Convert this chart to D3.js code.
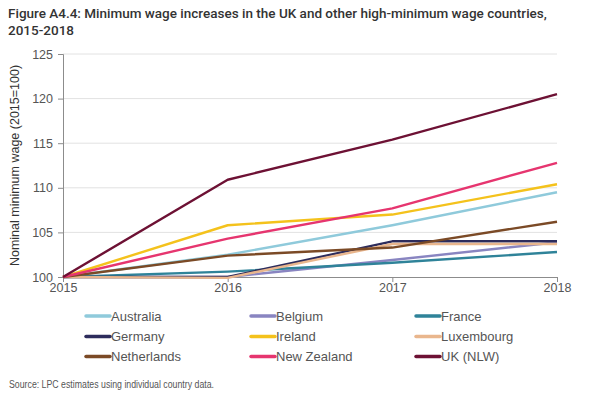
<!DOCTYPE html>
<html>
<head>
<meta charset="utf-8">
<script src="https://cdn.jsdelivr.net/npm/d3@7"></script>
<style>
  body { margin: 0; background: #fff; }
  text { font-family: "Liberation Sans", Arial, sans-serif; }
</style>
</head>
<body>
<div id="chart"></div>
<script>
const years = [2015, 2016, 2017, 2018];
const yTicks = [100, 105, 110, 115, 120, 125];

const countries = ["Australia", "Belgium", "France", "Germany", "Ireland",
                   "Luxembourg", "Netherlands", "New Zealand", "UK (NLW)"];
const colours = ["#8fcadb", "#8985c1", "#2f8399", "#2d2c5c", "#f4c21c",
                 "#e9b68d", "#7b4a26", "#e6356f", "#6d1134"];

const australia   = [100, 102.5, 105.8, 109.5];
const belgium     = [100, 100.0, 101.9, 103.9];
const france      = [100, 100.6, 101.6, 102.8];
const germany     = [100, 100.0, 104.0, 104.0];
const ireland     = [100, 105.8, 107.0, 110.4];
const luxembourg  = [100, 99.9, 103.7, 103.7];
const netherlands = [100, 102.4, 103.3, 106.2];
const newZealand  = [100, 104.3, 107.7, 112.8];
const uk          = [100, 110.9, 115.4, 120.5];

const series = [australia, belgium, france, germany, ireland,
                luxembourg, netherlands, newZealand, uk];

const W = 602, H = 393;
const svg = d3.select('#chart').append('svg')
  .attr('width', W).attr('height', H);

// title
const titleFont = 'Roboto, "Liberation Sans", sans-serif';
svg.append('text').attr('x', 8).attr('y', 18)
  .style('font-family', titleFont)
  .style('font-size', '13.5px').style('font-weight', 500).attr('fill', '#333')
  .text('Figure A4.4: Minimum wage increases in the UK and other high-minimum wage countries,');
svg.append('text').attr('x', 8).attr('y', 35)
  .style('font-family', titleFont)
  .style('font-size', '13.5px').style('font-weight', 500).attr('fill', '#333')
  .text('2015-2018');

const x = d3.scaleLinear().domain([2015, 2018]).range([63, 557]);
const y = d3.scaleLinear().domain([100, 125]).range([277, 54]);

// gridlines
svg.append('g').selectAll('line').data(yTicks.slice(1)).join('line')
  .attr('x1', x(2015)).attr('x2', x(2018))
  .attr('y1', d => y(d)).attr('y2', d => y(d))
  .attr('stroke', '#e2e2e2').attr('stroke-width', 1);

// y axis
const yAxis = svg.append('g').attr('transform', `translate(${x(2015)},0)`)
  .call(d3.axisLeft(y).tickValues(yTicks).tickSize(5).tickPadding(5));
// x axis
const xAxis = svg.append('g').attr('transform', `translate(0,${y(100)})`)
  .call(d3.axisBottom(x).tickValues(years).tickFormat(d3.format('d')).tickSize(5).tickPadding(3));

[yAxis, xAxis].forEach(a => {
  a.select('.domain').attr('stroke', '#8c8c8c');
  a.selectAll('.tick line').attr('stroke', '#8c8c8c');
  a.selectAll('.tick text').attr('fill', '#555')
    .style('font-size', '12.5px').style('font-family', '"Liberation Sans", Arial, sans-serif');
});
xAxis.selectAll('.tick text').attr('dy', '0.55em');

// y label
svg.append('text')
  .attr('transform', `translate(19,${(y(100) + y(125)) / 2}) rotate(-90)`)
  .attr('text-anchor', 'middle')
  .style('font-size', '12.5px').attr('fill', '#333')
  .text('Nominal minimum wage (2015=100)');

// lines
const line = d3.line().x((d, i) => x(years[i])).y(d => y(d));
svg.append('g').selectAll('path').data(series).join('path')
  .attr('d', line)
  .attr('fill', 'none')
  .attr('stroke', (d, i) => colours[i])
  .attr('stroke-width', 2.4)
  .attr('stroke-linejoin', 'round');

// legend
const colX = [86, 251, 416], rowY = [316, 336.5, 356.5];
const leg = svg.append('g').selectAll('g').data(countries).join('g')
  .attr('transform', (d, i) => `translate(${colX[i % 3]},${rowY[Math.floor(i / 3)]})`);
leg.append('line').attr('x1', 0).attr('x2', 24)
  .attr('stroke', (d, i) => colours[i]).attr('stroke-width', 3.5)
  .attr('stroke-linecap', 'round');
leg.append('text').attr('x', 25).attr('dy', '0.35em')
  .style('font-size', '13px').attr('fill', '#555')
  .text(d => d);

// source
svg.append('text').attr('x', 9).attr('y', 388)
  .style('font-size', '10px').attr('fill', '#555')
  .attr('textLength', 205).attr('lengthAdjust', 'spacingAndGlyphs')
  .text('Source: LPC estimates using individual country data.');
</script>
</body>
</html>
